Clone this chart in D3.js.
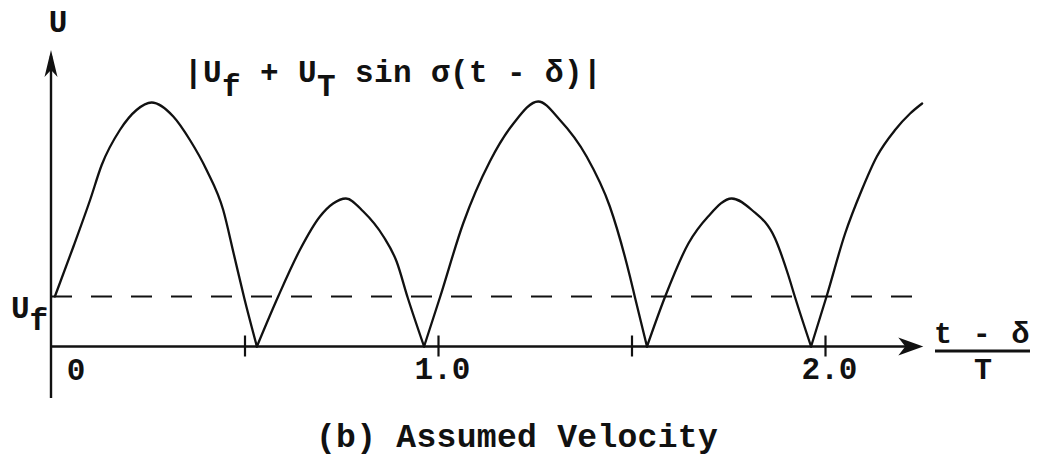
<!DOCTYPE html>
<html>
<head>
<meta charset="utf-8">
<script src="https://cdn.jsdelivr.net/npm/d3@7"></script>
<style>
  html, body { margin: 0; padding: 0; background: #fff; }
  svg { display: block; }
  text { font-family: "Liberation Mono", "DejaVu Sans Mono", monospace; fill: #111; font-weight: bold; }
</style>
</head>
<body>
<svg id="chart" width="1037" height="467"></svg>
<script>
// Speed |U_f + U_T sin σ(t - δ)| against (t - δ)/T, in units of U_f.
// Each arch runs between two zeros of the rectified velocity.
const arch1 = [[0.010,1.00],[0.058,2.00],[0.101,2.93],[0.131,3.63],[0.178,4.33],[0.221,4.73],
               [0.260,4.88],[0.316,4.60],[0.359,4.13],[0.402,3.53],[0.445,2.73],[0.472,1.86],
               [0.499,0.98],[0.532,0.00]];
const arch2 = [[0.532,0.00],[0.587,1.00],[0.643,1.93],[0.695,2.60],[0.729,2.86],[0.762,2.96],
               [0.807,2.70],[0.859,2.20],[0.893,1.70],[0.922,0.97],[0.964,0.00]];
const arch3 = [[0.964,0.00],[1.005,0.98],[1.065,2.46],[1.134,3.70],[1.195,4.46],[1.259,4.90],
               [1.315,4.53],[1.384,3.80],[1.444,2.80],[1.496,1.40],[1.509,0.98],[1.540,0.00]];
const arch4 = [[1.540,0.00],[1.587,1.00],[1.647,2.06],[1.698,2.60],[1.759,2.96],[1.811,2.73],
               [1.871,2.16],[1.905,1.43],[1.922,1.00],[1.964,0.00]];
const arch5 = [[1.964,0.00],[2.004,1.00],[2.052,2.26],[2.095,3.13],[2.134,3.80],[2.181,4.33],
               [2.220,4.66],[2.251,4.86]];

const steadySpeed = 1.0;                 // U_f
const tickValues = [0.5, 1.0, 1.5, 2.0];
const tickLabels = ["", "1.0", "", "2.0"];
const originLabel = "0";
const xEnd = 2.254;                      // end of the time axis (arrow tip)
const yEnd = 5.93;                       // end of the speed axis (arrow tip)
const dashEnd = 2.241;                   // where the U_f reference line stops

const svg = d3.select("#chart");
const ink = "#111";

const x = d3.scaleLinear().domain([0, 2]).range([51, 825]);
const y = d3.scaleLinear().domain([0, 6]).range([346.5, 46.5]);

// U_f reference level
svg.append("line")
  .attr("x1", x(0)).attr("x2", x(dashEnd))
  .attr("y1", y(steadySpeed)).attr("y2", y(steadySpeed))
  .attr("stroke", ink).attr("stroke-width", 2)
  .attr("stroke-dasharray", "21,19");

// speed axis
svg.append("line")
  .attr("x1", x(0)).attr("x2", x(0))
  .attr("y1", 398).attr("y2", y(yEnd) + 6)
  .attr("stroke", ink).attr("stroke-width", 2.4);

// time axis with ticks
const xAxis = d3.axisBottom(x)
  .tickValues(tickValues)
  .tickFormat((d, i) => tickLabels[i])
  .tickSizeOuter(0);

const axisG = svg.append("g")
  .attr("transform", `translate(0,${y(0)})`)
  .call(xAxis);
axisG.select(".domain").remove();
axisG.selectAll(".tick line")
  .attr("y1", -11).attr("y2", 10)
  .attr("stroke", ink).attr("stroke-width", 2.2);
axisG.selectAll(".tick text")
  .attr("y", 32).attr("dy", null)
  .attr("dx", 4)
  .style("font-family", '"Liberation Mono", monospace')
  .style("font-size", "31px")
  .style("font-weight", "bold")
  .attr("fill", ink);

svg.append("line")
  .attr("x1", x(0)).attr("x2", x(xEnd) - 8)
  .attr("y1", y(0)).attr("y2", y(0))
  .attr("stroke", ink).attr("stroke-width", 2.4);

// arrow heads
const xt = x(xEnd), yt = y(0);
svg.append("path")
  .attr("d", `M${xt},${yt} L${xt - 25},${yt - 9} L${xt - 18},${yt} L${xt - 25},${yt + 9} Z`)
  .attr("fill", ink);
const ax = x(0), ay = y(yEnd);
svg.append("path")
  .attr("d", `M${ax},${ay} L${ax - 6.5},${ay + 27} L${ax},${ay + 20} L${ax + 6.5},${ay + 27} Z`)
  .attr("fill", ink);

// rectified velocity curve
const line = d3.line()
  .x(d => x(d[0]))
  .y(d => y(d[1]))
  .curve(d3.curveMonotoneX);

[arch1, arch2, arch3, arch4, arch5].forEach(arch => {
  svg.append("path")
    .datum(arch)
    .attr("d", line)
    .attr("fill", "none")
    .attr("stroke", ink)
    .attr("stroke-width", 2.3)
    .attr("stroke-linejoin", "round")
    .attr("stroke-linecap", "round");
});

// labels
svg.append("text")
  .attr("x", 58).attr("y", 32)
  .attr("text-anchor", "middle")
  .style("font-size", "31px")
  .text("U");

svg.append("text")
  .attr("x", x(0) + 25).attr("y", 380)
  .attr("text-anchor", "middle")
  .style("font-size", "31px")
  .text(originLabel);

const uf = svg.append("text")
  .attr("x", 11).attr("y", 318)
  .style("font-size", "31px");
uf.append("tspan").text("U");
uf.append("tspan").attr("dy", 12).text("f");

const formula = svg.append("text")
  .attr("x", 184).attr("y", 82)
  .style("font-size", "31px")
  .style("letter-spacing", "0.4px");
formula.append("tspan").text("|U");
formula.append("tspan").attr("dy", 14).text("f");
formula.append("tspan").attr("dy", -14).text(" + U");
formula.append("tspan").attr("dy", 14).text("T");
formula.append("tspan").attr("dy", -14).text(" sin σ(t - δ)|");

// axis title as a fraction
svg.append("text")
  .attr("x", 934).attr("y", 343)
  .style("font-size", "30px")
  .style("letter-spacing", "1.4px")
  .text("t - δ");
svg.append("line")
  .attr("x1", 935).attr("x2", 1030)
  .attr("y1", 351).attr("y2", 351)
  .attr("stroke", ink).attr("stroke-width", 3);
svg.append("text")
  .attr("x", 983).attr("y", 379)
  .attr("text-anchor", "middle")
  .style("font-size", "30px")
  .text("T");

// caption
svg.append("text")
  .attr("x", 517).attr("y", 447)
  .attr("text-anchor", "middle")
  .style("font-size", "33px")
  .style("letter-spacing", "0.3px")
  .text("(b) Assumed Velocity");
</script>
</body>
</html>
